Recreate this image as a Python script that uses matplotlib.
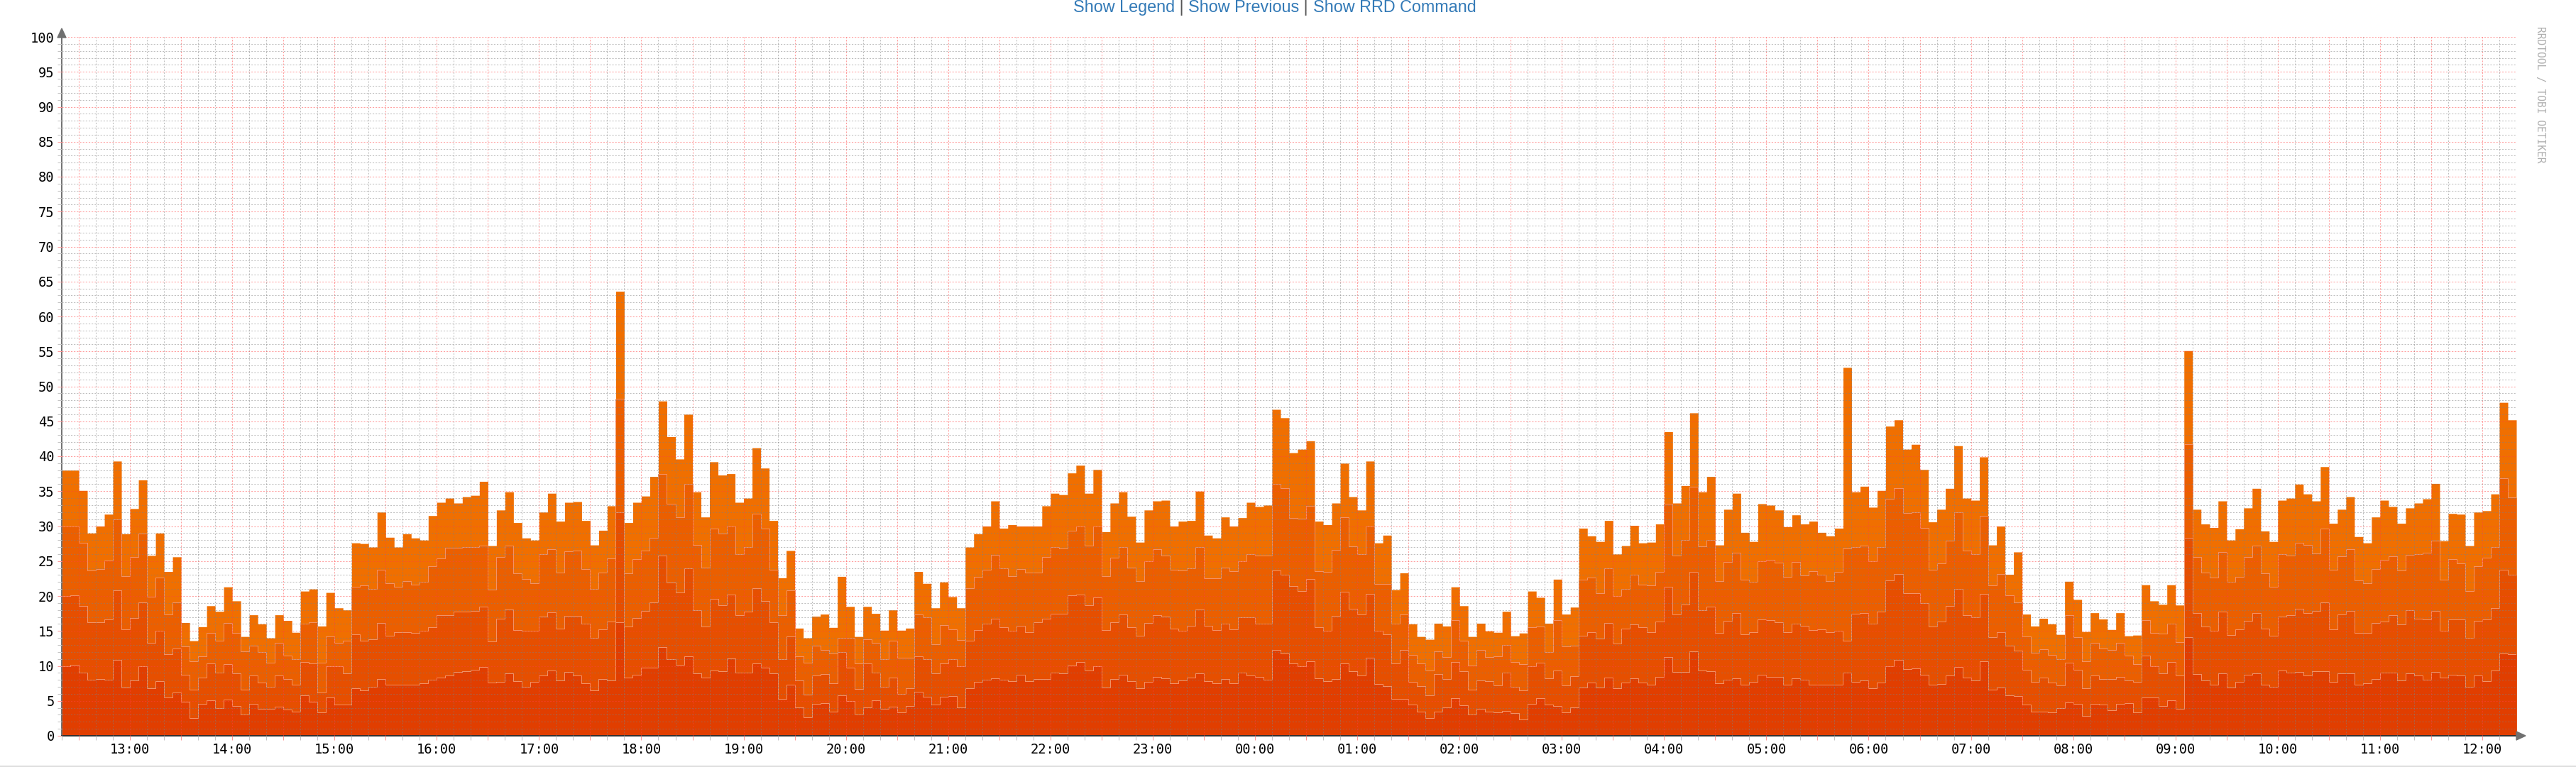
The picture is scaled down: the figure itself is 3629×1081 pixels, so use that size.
import numpy as np
import pandas as pd
import matplotlib
matplotlib.use('Agg')
import matplotlib.pyplot as plt
import matplotlib.dates as mdates
from matplotlib.patches import Polygon
from matplotlib.lines import Line2D
from matplotlib.ticker import MultipleLocator, FuncFormatter

W, H, DPI = 3630, 1081, 100

# stacked values, one per 5 minute step starting 12:20
total = [
    38.0, 38.0, 35.1, 29.0, 30.0, 31.7, 39.3, 28.9, 32.5, 36.6,
    25.8, 29.0, 23.5, 25.6, 16.2, 13.6, 15.6, 18.6, 17.8, 21.3,
    19.3, 14.2, 17.3, 16.0, 14.0, 17.3, 16.5, 14.8, 20.7, 21.0,
    15.7, 20.5, 18.3, 18.0, 27.6, 27.5, 27.0, 32.0, 28.4, 27.0,
    28.9, 28.3, 28.0, 31.5, 33.4, 34.0, 33.3, 34.2, 34.4, 36.4,
    27.2, 32.3, 34.9, 30.5, 28.3, 28.0, 32.0, 34.7, 30.7, 33.4,
    33.5, 30.8, 27.3, 29.4, 32.9, 63.6, 30.5, 33.4, 34.3, 37.1,
    47.9, 42.8, 39.6, 46.0, 34.9, 31.3, 39.2, 37.3, 37.5, 33.4,
    34.0, 41.2, 38.3, 30.8, 22.6, 26.5, 15.4, 14.0, 17.1, 17.4,
    15.5, 22.8, 18.5, 14.2, 18.5, 17.5, 15.1, 18.0, 15.1, 15.4,
    23.5, 21.8, 18.3, 22.0, 19.9, 18.3, 27.0, 28.9, 30.0, 33.6,
    29.7, 30.2, 30.0, 30.0, 30.0, 32.9, 34.7, 34.5, 37.6, 38.7,
    34.7, 38.1, 29.2, 33.3, 34.9, 31.4, 27.7, 32.3, 33.6, 33.7,
    30.0, 30.7, 30.8, 35.0, 28.7, 28.3, 31.3, 30.0, 31.2, 33.4,
    32.8, 33.0, 46.7, 45.5, 40.5, 41.0, 42.2, 30.7, 30.2, 33.3,
    39.0, 34.2, 32.3, 39.3, 27.6, 28.7, 20.9, 23.3, 16.0, 14.2,
    13.8, 16.1, 15.7, 21.3, 18.6, 14.2, 16.1, 15.0, 14.8, 17.8,
    14.3, 14.7, 20.7, 19.8, 16.1, 22.4, 17.4, 18.4, 29.7, 28.6,
    27.8, 30.8, 26.0, 27.2, 30.1, 27.6, 27.7, 30.3, 43.5, 33.3,
    35.8, 46.2, 34.9, 37.1, 27.3, 32.4, 34.7, 29.1, 27.8, 33.2,
    33.0, 32.3, 29.9, 31.6, 30.3, 30.7, 29.1, 28.6, 29.7, 52.7,
    34.9, 35.7, 32.7, 35.1, 44.3, 45.2, 41.0, 41.7, 38.1, 30.6,
    32.4, 35.4, 41.5, 34.0, 33.7, 39.9, 27.3, 30.0, 23.1, 26.3,
    17.4, 15.7, 16.8, 16.0, 14.5, 22.1, 19.5, 14.9, 17.6, 16.7,
    15.2, 17.6, 14.3, 14.4, 21.6, 19.3, 18.8, 21.6, 18.7, 55.1,
    32.4, 30.3, 29.8, 33.6, 28.0, 29.6, 32.6, 35.4, 29.3, 27.8,
    33.7, 34.0, 36.0, 34.6, 33.6, 38.5, 30.4, 32.4, 34.2, 28.5,
    27.6, 31.3, 33.7, 32.8, 30.4, 32.6, 33.3, 33.9, 36.1, 27.9,
    31.8, 31.7, 27.2, 32.0, 32.2, 34.6, 47.7, 45.2,
]
stack3 = [
    30.0, 30.0, 27.6, 23.7, 23.9, 25.1, 31.0, 22.8, 25.6, 28.9,
    19.9, 22.6, 17.4, 19.1, 12.8, 10.7, 11.4, 14.7, 13.6, 16.1,
    14.7, 12.1, 12.9, 12.0, 10.5, 13.3, 11.5, 11.0, 16.0, 16.2,
    10.5, 14.2, 13.3, 13.6, 21.3, 21.5, 21.0, 23.8, 21.8, 21.3,
    22.1, 21.6, 22.0, 24.3, 25.4, 26.9, 26.9, 27.0, 27.0, 27.2,
    20.9, 25.6, 27.2, 23.2, 22.4, 21.8, 26.0, 26.7, 23.3, 26.4,
    26.5, 23.9, 21.0, 23.4, 25.4, 48.2, 23.2, 25.3, 26.5, 28.3,
    37.5, 33.2, 31.3, 36.0, 27.3, 24.1, 29.6, 28.9, 30.0, 26.0,
    27.0, 31.8, 29.6, 23.8, 17.3, 20.8, 11.4, 10.5, 12.9, 12.3,
    11.8, 14.0, 14.0, 10.4, 13.8, 13.3, 11.0, 13.6, 11.2, 11.2,
    17.4, 17.0, 13.1, 15.8, 15.2, 13.7, 21.1, 22.7, 23.8, 25.9,
    24.0, 22.8, 23.9, 23.3, 23.3, 25.6, 27.0, 26.8, 29.3, 29.9,
    27.2, 30.0, 22.8, 25.5, 27.0, 24.1, 22.1, 25.0, 26.7, 25.8,
    23.8, 23.7, 24.0, 27.0, 22.5, 22.5, 24.1, 23.6, 25.0, 26.0,
    25.8, 25.8, 36.0, 35.4, 31.2, 31.1, 32.9, 23.6, 23.5, 26.6,
    31.3, 27.1, 26.0, 30.0, 21.7, 21.7, 16.0, 17.4, 11.6, 10.4,
    9.3, 12.1, 11.3, 16.5, 13.6, 10.1, 12.3, 11.3, 11.4, 13.0,
    10.6, 10.3, 15.5, 15.6, 12.0, 16.5, 12.8, 12.9, 22.3, 22.6,
    20.4, 24.0, 20.0, 21.0, 23.0, 21.6, 21.5, 23.5, 33.2, 25.8,
    28.0, 35.6, 27.1, 28.0, 22.1, 24.9, 26.2, 22.3, 22.0, 25.0,
    25.2, 24.8, 22.7, 24.9, 22.9, 23.6, 23.0, 22.1, 23.5, 26.8,
    27.0, 27.2, 25.0, 27.0, 33.9, 35.4, 31.9, 32.0, 29.7, 23.8,
    24.7, 27.9, 32.0, 26.5, 26.0, 31.5, 21.5, 23.1, 20.1, 19.1,
    14.2, 11.9, 12.4, 11.6, 11.0, 17.3, 14.1, 10.7, 13.3, 12.5,
    12.3, 13.3, 11.5, 10.3, 16.5, 14.7, 14.6, 16.0, 13.4, 41.7,
    25.6, 23.3, 22.6, 26.3, 22.0, 22.7, 25.6, 27.2, 23.2, 21.3,
    26.0, 25.8, 27.6, 27.3, 26.1, 29.6, 23.8, 25.7, 26.7, 22.2,
    21.8, 23.9, 25.2, 25.7, 23.7, 25.9, 26.0, 26.2, 27.9, 22.3,
    25.3, 24.7, 20.7, 24.3, 25.5, 27.0, 36.9, 34.1,
]
stack2 = [
    20.0, 20.1, 18.6, 16.2, 16.2, 16.7, 20.8, 15.2, 16.9, 19.1,
    13.3, 15.0, 11.7, 12.5, 8.7, 6.6, 8.3, 10.4, 9.0, 10.3,
    8.9, 6.6, 8.6, 7.6, 7.0, 8.6, 8.1, 7.3, 10.6, 10.4,
    6.2, 10.0, 10.0, 8.9, 14.5, 13.6, 13.8, 16.1, 14.3, 14.8,
    14.8, 14.7, 15.0, 15.5, 17.3, 17.3, 17.8, 17.8, 17.9, 18.5,
    13.5, 16.8, 18.1, 15.1, 15.0, 15.0, 17.1, 17.7, 15.3, 17.2,
    17.2, 16.0, 14.0, 15.2, 16.3, 32.0, 15.6, 16.9, 17.9, 19.1,
    25.8, 21.9, 20.5, 24.0, 18.0, 15.6, 19.6, 18.7, 20.2, 17.3,
    17.8, 21.1, 19.3, 16.2, 11.0, 14.2, 7.9, 5.9, 8.6, 8.8,
    7.5, 12.0, 9.7, 6.7, 10.4, 9.0, 7.0, 8.3, 6.0, 6.8,
    11.4, 11.0, 8.9, 10.4, 11.0, 10.0, 13.6, 15.1, 16.0, 16.8,
    15.5, 15.0, 15.7, 14.8, 16.2, 16.8, 17.5, 17.5, 20.1, 20.2,
    18.7, 19.8, 15.1, 16.2, 17.4, 15.5, 14.3, 16.1, 17.3, 17.1,
    15.3, 15.0, 15.7, 18.1, 15.7, 15.1, 16.0, 15.2, 17.0, 17.0,
    16.0, 16.0, 23.7, 23.0, 21.4, 20.7, 22.4, 15.5, 15.0, 17.2,
    20.6, 18.2, 17.4, 20.3, 15.0, 14.5, 10.4, 12.3, 7.7, 7.1,
    5.8, 8.8, 8.1, 10.6, 9.2, 6.6, 7.9, 7.8, 7.2, 9.0,
    7.0, 6.5, 10.0, 10.5, 8.2, 9.3, 7.2, 8.5, 14.3, 14.8,
    13.9, 16.1, 13.2, 15.3, 15.9, 15.5, 14.8, 16.3, 21.3, 17.4,
    18.8, 23.5, 18.0, 18.5, 14.7, 16.4, 17.6, 14.5, 14.8, 16.7,
    16.5, 16.2, 14.8, 16.0, 15.7, 15.1, 15.2, 14.8, 15.0, 13.6,
    17.5, 17.6, 16.0, 17.8, 22.2, 23.1, 20.4, 20.4, 19.0, 15.6,
    16.3, 18.6, 21.0, 17.3, 17.0, 20.3, 14.1, 14.8, 12.9, 12.2,
    9.4, 7.7, 8.3, 7.6, 7.2, 10.5, 9.4, 6.8, 8.6, 8.1,
    8.1, 8.4, 7.9, 7.7, 11.5, 10.0, 8.9, 10.6, 8.6, 28.3,
    17.6, 15.6, 15.0, 17.8, 14.4, 15.2, 16.4, 17.6, 15.3, 14.3,
    17.1, 17.3, 18.2, 17.6, 17.9, 19.1, 15.2, 17.4, 17.9, 14.7,
    14.7, 16.1, 16.3, 17.3, 15.9, 18.0, 16.8, 16.7, 17.9, 15.0,
    16.6, 16.7, 14.0, 16.4, 16.7, 18.3, 23.8, 23.0,
]
stack1 = [
    10.0, 10.2, 9.0, 8.0, 8.1, 8.0, 10.9, 6.9, 7.9, 9.9,
    6.8, 7.8, 5.5, 6.2, 4.9, 2.5, 4.6, 5.1, 4.0, 5.2,
    4.3, 3.0, 4.6, 3.9, 3.9, 4.2, 3.8, 3.5, 5.8, 4.9,
    3.3, 5.5, 4.5, 4.5, 6.8, 6.5, 7.0, 8.1, 7.3, 7.3,
    7.3, 7.3, 7.5, 8.0, 8.3, 8.6, 9.1, 9.2, 9.4, 9.8,
    7.6, 7.7, 8.9, 7.8, 7.0, 7.7, 8.6, 9.3, 7.9, 9.1,
    8.6, 7.5, 6.5, 8.1, 7.9, 16.2, 8.3, 8.7, 9.7, 9.7,
    12.7, 11.0, 10.2, 11.4, 8.9, 8.3, 9.3, 9.2, 11.1, 9.0,
    9.0, 10.4, 9.7, 8.9, 5.3, 7.3, 4.1, 2.6, 4.6, 4.7,
    3.5, 5.8, 5.0, 3.0, 4.1, 5.1, 3.9, 4.2, 3.3, 4.3,
    6.3, 5.6, 4.5, 5.6, 5.7, 4.1, 6.8, 7.7, 8.0, 8.2,
    8.0, 7.8, 8.7, 7.8, 8.1, 8.1, 9.0, 8.9, 10.1, 10.6,
    9.3, 9.9, 6.9, 8.1, 8.7, 7.8, 6.8, 7.7, 8.4, 8.2,
    7.5, 7.9, 8.3, 8.9, 7.8, 7.5, 8.1, 7.5, 9.0, 8.6,
    8.4, 8.0, 12.3, 11.8, 10.4, 9.9, 10.7, 8.2, 7.8, 8.1,
    10.4, 9.2, 8.6, 11.2, 7.4, 7.1, 5.3, 5.3, 4.5, 3.5,
    2.5, 3.5, 4.1, 5.4, 4.4, 3.0, 3.9, 3.5, 3.3, 3.6,
    3.2, 2.3, 4.6, 5.4, 4.5, 4.3, 3.4, 4.1, 6.9, 7.6,
    6.9, 8.3, 6.8, 7.6, 8.2, 7.6, 7.3, 8.4, 11.3, 9.1,
    9.1, 12.1, 9.3, 9.2, 7.5, 8.0, 8.2, 7.3, 7.7, 8.7,
    8.4, 8.4, 7.3, 8.2, 8.0, 7.3, 7.3, 7.3, 7.3, 9.0,
    7.7, 7.9, 6.8, 7.6, 10.0, 10.9, 9.5, 9.6, 8.7, 7.3,
    7.4, 8.6, 9.8, 8.3, 7.9, 10.7, 6.6, 6.9, 5.8, 5.7,
    4.5, 3.5, 3.5, 3.4, 4.0, 4.8, 4.6, 2.8, 4.6, 4.5,
    3.7, 4.6, 4.7, 3.3, 5.5, 5.5, 4.3, 5.1, 3.9, 14.1,
    8.8, 7.9, 7.3, 8.9, 6.9, 7.7, 8.7, 8.9, 7.3, 7.0,
    9.3, 9.0, 9.1, 8.6, 9.2, 9.2, 7.7, 8.9, 8.9, 7.3,
    7.5, 8.1, 9.0, 9.0, 7.9, 8.9, 8.6, 8.0, 9.1, 8.3,
    8.7, 8.6, 7.0, 8.6, 7.8, 9.3, 11.8, 11.7,
]

layer_colors = ['#e13e00', '#e64f00', '#eb5f00', '#f06f00']
edge_color = '#f3956a'

plt.rcParams['font.family'] = 'DejaVu Sans Mono'

fig = plt.figure(figsize=(W / DPI, H / DPI), dpi=DPI)
ax = fig.add_axes([87 / W, (H - 1037) / H, (3545 - 87) / W, (1037 - 52) / H])

times = pd.date_range('2024-05-14 12:20', periods=len(total) + 1, freq='5min')
x = mdates.date2num(times)


def ext(v):
    return np.append(v, v[-1])


bounds = [ext(stack1), ext(stack2), ext(stack3), ext(total)]

# paint from the top layer down so the fills never leave seams
for k in range(3, -1, -1):
    ax.fill_between(x, 0, bounds[k], step='post', color=layer_colors[k],
                    lw=0, zorder=1)
for k in range(3):
    ax.step(x, bounds[k], where='post', color=edge_color, lw=0.7, zorder=1.1)

ax.set_xlim(x[0], x[-1])
ax.set_ylim(0, 100)

ax.xaxis.set_major_locator(mdates.MinuteLocator(byminute=[0, 30]))
ax.xaxis.set_minor_locator(mdates.MinuteLocator(byminute=[10, 20, 40, 50]))


def hour_label(v, pos):
    d = mdates.num2date(v)
    return d.strftime('%H:%M') if d.minute == 0 else ''


ax.xaxis.set_major_formatter(FuncFormatter(hour_label))
ax.yaxis.set_major_locator(MultipleLocator(5))
ax.yaxis.set_minor_locator(MultipleLocator(1))

ax.set_axisbelow(False)
ax.grid(which='major', color='#ff4040', alpha=0.5, lw=0.75, ls=(0, (2, 2)))
ax.grid(which='minor', color='#808080', alpha=0.5, lw=0.75, ls=(0, (2, 2)))

ax.tick_params(which='major', length=4, width=0.75, color='#ff9a9a',
               labelsize=13.5, pad=3.5, labelcolor='black')
ax.tick_params(which='minor', length=4, width=0.75, color='#c4c4c4')

for side in ('top', 'right'):
    ax.spines[side].set_visible(False)
ax.spines['left'].set_color('#707070')
ax.spines['left'].set_linewidth(1.4)
ax.spines['bottom'].set_color('#303030')
ax.spines['bottom'].set_linewidth(1.4)


def px(xp, yp):
    return (xp / W, 1 - yp / H)


fig.add_artist(Polygon([px(87, 40), px(81, 53), px(93, 53)], closed=True,
                       transform=fig.transFigure, color='#707070'))
fig.add_artist(Polygon([px(3558, 1037), px(3545, 1031), px(3545, 1043)],
                       closed=True, transform=fig.transFigure, color='#707070'))
fig.add_artist(Line2D([0, 1], [1 - 1079.5 / H] * 2, transform=fig.transFigure,
                      color='#dedede', lw=1.5))

fig.text(3579 / W, 1 - 133 / H, 'RRDTOOL / TOBI OETIKER', rotation=270,
         ha='center', va='center', color='#b0b0b0', fontsize=10.5)

link_kw = dict(fontsize=16.8, family=['Liberation Sans', 'DejaVu Sans'])
parts = [('Show Legend', '#337ab7'), (' | ', '#555555'),
         ('Show Previous', '#337ab7'), (' | ', '#555555'),
         ('Show RRD Command', '#337ab7')]
prev = fig.text(1512 / W, 1 - 17 / H, parts[0][0], color=parts[0][1],
                ha='left', va='baseline', **link_kw)
for s, c in parts[1:]:
    prev = ax.annotate(s, xy=(1, 0), xycoords=prev, ha='left', va='bottom',
                       color=c, annotation_clip=False, **link_kw)

fig.savefig('out.png', dpi=DPI)
